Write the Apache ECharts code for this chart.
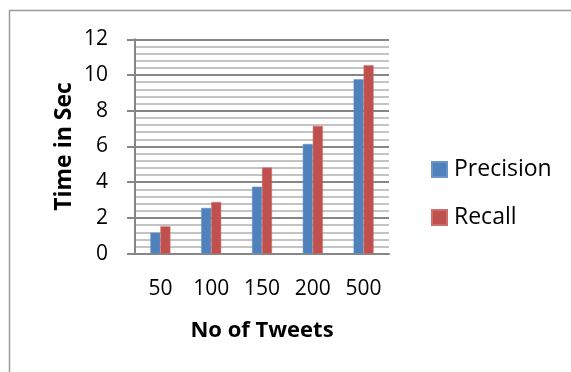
<!DOCTYPE html>
<html>
<head>
<meta charset="utf-8">
<script src="https://cdn.jsdelivr.net/npm/echarts@6/dist/echarts.min.js"></script>
<style>
html,body{margin:0;padding:0;background:#fff;}
#chart{width:571px;height:372px;}
</style>
</head>
<body>
<div id="chart"></div>
<script>
const categories = ['50', '100', '150', '200', '500'];
const precision = [1.18, 2.56, 3.75, 6.14, 9.76];
const recall = [1.53, 2.89, 4.82, 7.15, 10.55];
const yTicks = { min: 0, max: 12, interval: 2 };

const chart = echarts.init(document.getElementById('chart'), null, { renderer: 'canvas' });
const font = '"Open Sans", "DejaVu Sans", sans-serif';
chart.setOption({
  animation: false,
  textStyle: { fontFamily: font },
  graphic: [{
    type: 'rect',
    shape: { x: 9.5, y: 10.5, width: 620, height: 420 },
    style: { fill: 'none', stroke: '#9a9a9a', lineWidth: 1.5 },
    silent: true
  }],
  grid: { left: 135, right: 182, top: 39.3, bottom: 118.3, containLabel: false },
  legend: {
    orient: 'vertical',
    left: 431,
    top: 158,
    padding: 0,
    itemWidth: 15,
    itemHeight: 15,
    itemGap: 25,
    icon: 'rect',
    textStyle: { fontFamily: font, fontSize: 23, color: '#000', lineHeight: 23, padding: [0, 0, 0, 2] },
    data: ['Precision', 'Recall']
  },
  xAxis: {
    type: 'category',
    data: categories,
    name: 'No of Tweets',
    nameLocation: 'middle',
    nameGap: 66,
    nameTextStyle: { fontFamily: font, fontSize: 22, fontWeight: 'bold', color: '#000' },
    axisLine: { lineStyle: { color: '#868686', width: 2 } },
    axisTick: { show: false },
    axisLabel: { fontFamily: font, fontSize: 21, color: '#000', margin: 25 },
    splitLine: { show: false }
  },
  yAxis: {
    type: 'value',
    min: yTicks.min,
    max: yTicks.max,
    interval: yTicks.interval,
    name: 'Time in Sec',
    nameLocation: 'middle',
    nameGap: 59,
    nameRotate: 90,
    nameTextStyle: { fontFamily: font, fontSize: 23, fontWeight: 'bold', color: '#000' },
    axisLine: { show: true, lineStyle: { color: '#868686', width: 2 } },
    axisTick: { show: true, length: 8, lineStyle: { color: '#868686', width: 2 } },
    axisLabel: { fontFamily: font, fontSize: 21, color: '#000', margin: 27 },
    splitLine: { show: true, lineStyle: { color: '#868686', width: 2 } },
    minorTick: { show: false, splitNumber: 5 },
    minorSplitLine: { show: true, lineStyle: { color: '#c4c4c4', width: 2 } }
  },
  series: [
    {
      name: 'Precision', type: 'bar', data: precision, barWidth: 10, barGap: '0%',
      itemStyle: { color: '#4F81BD', borderColor: '#6a94c8', borderWidth: 0.5 }
    },
    {
      name: 'Recall', type: 'bar', data: recall, barWidth: 10, barGap: '0%',
      itemStyle: { color: '#C0504D', borderColor: '#cc6e6b', borderWidth: 0.5 }
    }
  ]
});
</script>
</body>
</html>
